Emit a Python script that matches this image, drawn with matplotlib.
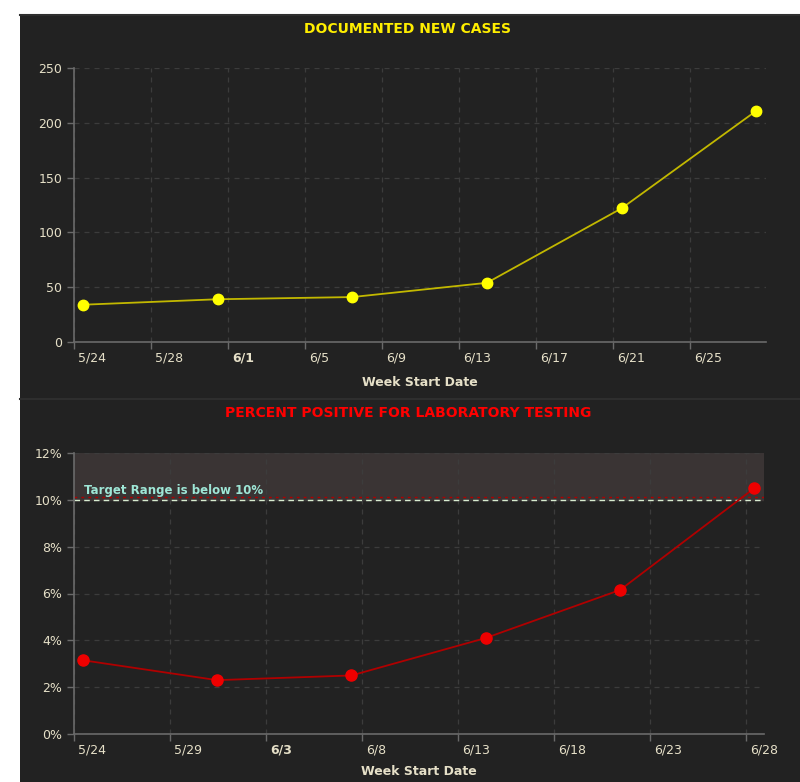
import pandas as pd
import matplotlib
matplotlib.use('Agg')
import matplotlib.pyplot as plt
import matplotlib.transforms as mtransforms
from matplotlib.patches import Rectangle

# datos
semanas = pd.to_datetime(['2020-05-24 11:00', '2020-05-31 11:00', '2020-06-07 11:00',
                          '2020-06-14 11:00', '2020-06-21 11:00', '2020-06-28 11:00'])
casos_nuevos = [34, 39, 41, 54, 122, 211]
pct_positivo = [3.15, 2.3, 2.5, 4.1, 6.15, 10.5]

ticks_casos = pd.date_range('2020-05-24', periods=9, freq='4D')
ticks_pct = pd.date_range('2020-05-24', periods=8, freq='5D')
meta = 10

fondo = '#222222'
texto = '#e6e0c8'
grid = '#3c3c3c'
eje = '#6a6a6a'
fuente = ['DejaVu Sans Condensed', 'Liberation Sans Narrow', 'DejaVu Sans']

fig = plt.figure(figsize=(8, 7.82), dpi=100, facecolor='white')
fig.patches.append(Rectangle((20 / 800, 0), 780 / 800, 1 - 14 / 782, transform=fig.transFigure,
                             facecolor=fondo, edgecolor='none', zorder=-2))
# lineas separadoras
for yy in [1 - 15 / 782, 1 - 399 / 782]:
    fig.lines.append(plt.Line2D([20 / 800, 1], [yy, yy], transform=fig.transFigure,
                                color='#2e2e2e', lw=1.5, zorder=-1))

ax1 = fig.add_axes([0.0925, 1 - 342 / 782, 0.865, 274 / 782])
ax2 = fig.add_axes([0.0925, 1 - 734 / 782, 0.8625, 281 / 782])


def estilo(ax, ticks, bold_label, pad_label):
    ax.set_facecolor(fondo)
    for s in ['top', 'right']:
        ax.spines[s].set_visible(False)
    for s in ['left', 'bottom']:
        ax.spines[s].set_color(eje)
        ax.spines[s].set_linewidth(1.2)
    ax.grid(True, color=grid, linestyle=(0, (4, 4)), linewidth=0.9)
    ax.set_axisbelow(True)
    ax.set_xlim(pd.Timestamp('2020-05-24'), pd.Timestamp('2020-06-28 23:00'))
    ax.set_xticks(ticks)
    ax.set_xticklabels([f'{d.month}/{d.day}' for d in ticks])
    ax.tick_params(colors=eje, labelcolor=texto, labelsize=9, length=5, width=1)
    ax.tick_params(axis='x', pad=2)
    offset = mtransforms.ScaledTranslation(3 / 72, 0, fig.dpi_scale_trans)
    for lab in ax.get_xticklabels():
        lab.set_ha('left')
        lab.set_transform(lab.get_transform() + offset)
        lab.set_family(fuente)
        if lab.get_text() == bold_label:
            lab.set_fontweight('bold')
    for lab in ax.get_yticklabels():
        lab.set_family(fuente)
    ax.set_xlabel('Week Start Date', color=texto, fontsize=9, fontweight='bold',
                  family=fuente, labelpad=pad_label)


# grafico 1: casos nuevos
ax1.plot(semanas, casos_nuevos, color='#c2b800', lw=1.3, zorder=3)
ax1.plot(semanas, casos_nuevos, 'o', color='#ffff00', ms=7.5, zorder=4)
ax1.set_ylim(0, 250)
ax1.set_yticks(range(0, 251, 50))
estilo(ax1, ticks_casos, '6/1', 8)
fig.text(0.51, 1 - 29 / 782, 'DOCUMENTED NEW CASES', color='#ffee00', fontsize=10,
         fontweight='bold', family=fuente, ha='center', va='center')

# grafico 2: porcentaje positivo
ax2.axhspan(meta, 12, color='#3a3434', zorder=0.5)
ax2.axhline(meta + 0.13, color='#b00000', lw=1, linestyle=(0, (2, 3)), zorder=2)
ax2.axhline(meta, color='#d8ecd0', lw=1, linestyle=(0, (4, 3)), zorder=2)
ax2.text(pd.Timestamp('2020-05-24 13:00'), meta + 0.12, 'Target Range is below 10%',
         color='#9ee6d6', fontsize=8.5, fontweight='bold', family=fuente, va='bottom')
ax2.plot(semanas, pct_positivo, color='#b00000', lw=1.3, zorder=3)
ax2.plot(semanas, pct_positivo, 'o', color='#ee0000', ms=8, zorder=4)
ax2.set_ylim(0, 12)
ax2.set_yticks(range(0, 13, 2))
ax2.set_yticklabels([f'{v}%' for v in range(0, 13, 2)])
estilo(ax2, ticks_pct, '6/3', 6)
fig.text(0.51, 1 - 413 / 782, 'PERCENT POSITIVE FOR LABORATORY TESTING', color='#ff0000',
         fontsize=10, fontweight='bold', family=fuente, ha='center', va='center')

plt.savefig('out.png', dpi=100, facecolor='white')
